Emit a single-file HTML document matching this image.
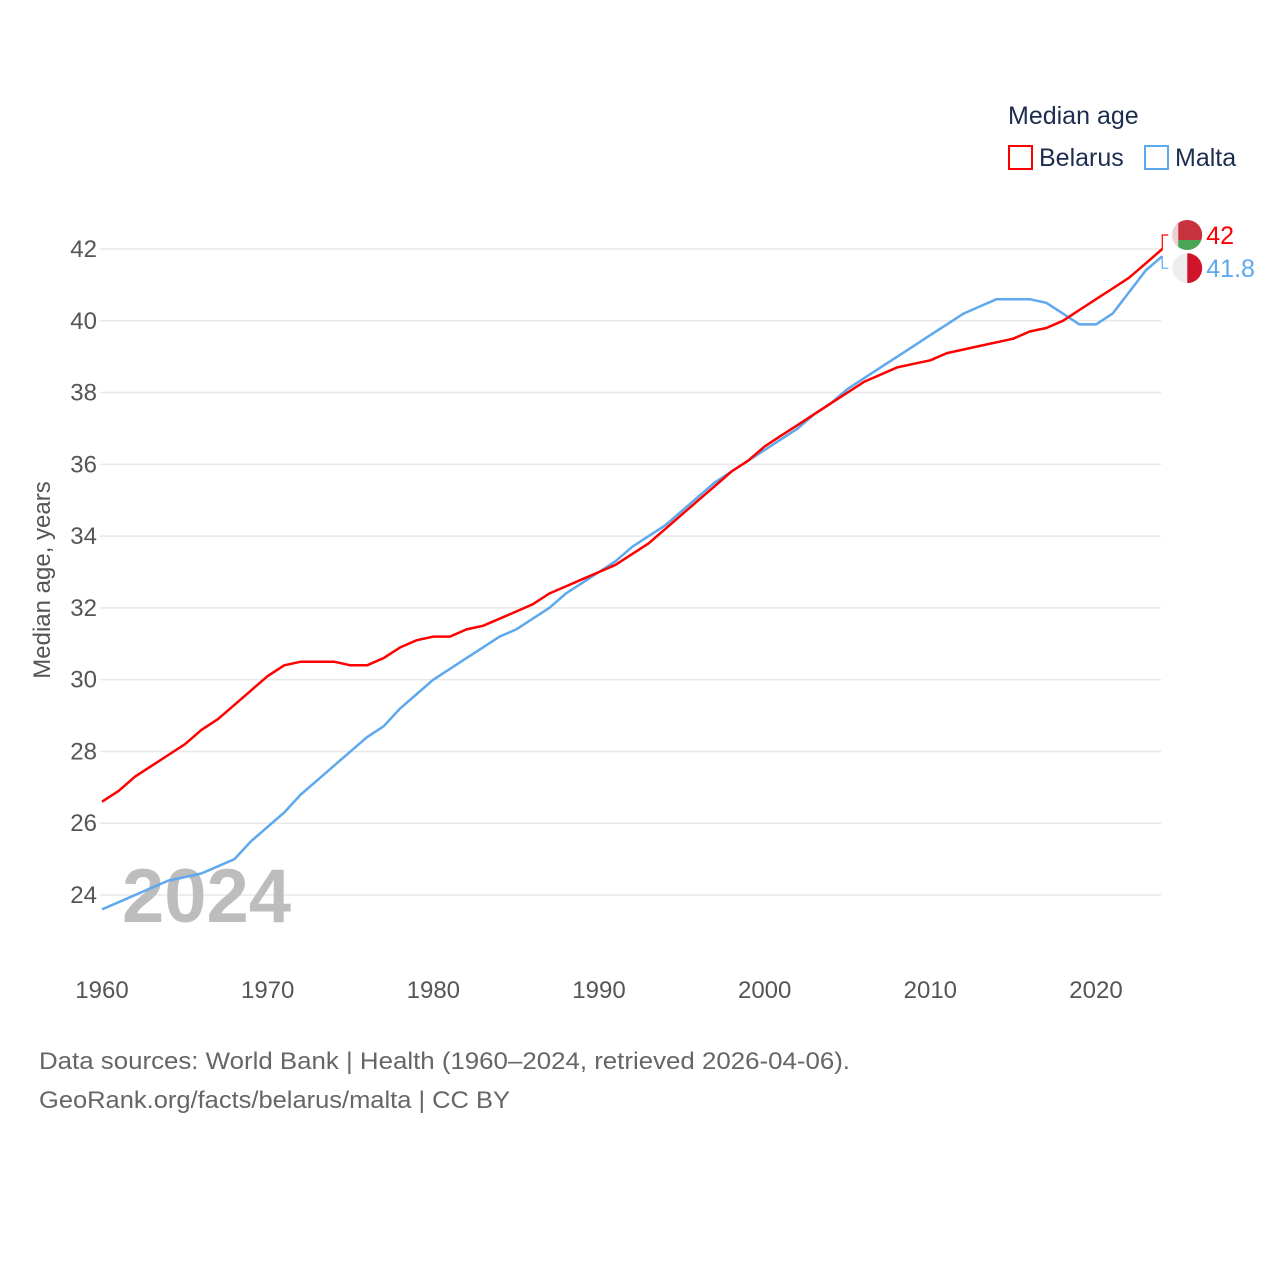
<!DOCTYPE html>
<html><head><meta charset="utf-8"><style>
body{margin:0;background:#fff;font-family:"Liberation Sans",sans-serif}
svg text{font-family:"Liberation Sans",sans-serif}
</style></head><body>
<svg id="chart" width="1280" height="1280" viewBox="0 0 1280 1280">
<g id="grid"></g>
<g id="yaxis"></g>
<g id="xaxis"></g>
<text x="122" y="922" font-size="76" font-weight="bold" fill="#bdbdbd">2024</text>
<g id="lines"></g>
<text transform="translate(50,580) rotate(-90)" text-anchor="middle" font-size="24" fill="#555">Median age, years</text>
<g>
<text x="1008" y="124" font-size="25" fill="#1d2d50">Median age</text>
<rect x="1009" y="146" width="23" height="23" fill="none" stroke="#ff0000" stroke-width="2"/>
<text x="1039" y="166" font-size="25" fill="#1d2d50">Belarus</text>
<rect x="1145" y="146" width="23" height="23" fill="none" stroke="#5ea8ee" stroke-width="2"/>
<text x="1175" y="166" font-size="25" fill="#1d2d50">Malta</text>
</g>
<g id="ends"></g>
<text x="39" y="1069" font-size="24" fill="#666" textLength="811" lengthAdjust="spacingAndGlyphs">Data sources: World Bank | Health (1960–2024, retrieved 2026-04-06).</text>
<text x="39" y="1108" font-size="24" fill="#666" textLength="471" lengthAdjust="spacingAndGlyphs">GeoRank.org/facts/belarus/malta | CC BY</text>
</svg>
<script>
const years=[];for(let y=1960;y<=2024;y++)years.push(y);
const belarus=[26.6,26.9,27.3,27.6,27.9,28.2,28.6,28.9,29.3,29.7,30.1,30.4,30.5,30.5,30.5,30.4,30.4,30.6,30.9,31.1,31.2,31.2,31.4,31.5,31.7,31.9,32.1,32.4,32.6,32.8,33.0,33.2,33.5,33.8,34.2,34.6,35.0,35.4,35.8,36.1,36.5,36.8,37.1,37.4,37.7,38.0,38.3,38.5,38.7,38.8,38.9,39.1,39.2,39.3,39.4,39.5,39.7,39.8,40.0,40.3,40.6,40.9,41.2,41.6,42.0];
const malta=[23.6,23.8,24.0,24.2,24.4,24.5,24.6,24.8,25.0,25.5,25.9,26.3,26.8,27.2,27.6,28.0,28.4,28.7,29.2,29.6,30.0,30.3,30.6,30.9,31.2,31.4,31.7,32.0,32.4,32.7,33.0,33.3,33.7,34.0,34.3,34.7,35.1,35.5,35.8,36.1,36.4,36.7,37.0,37.4,37.7,38.1,38.4,38.7,39.0,39.3,39.6,39.9,40.2,40.4,40.6,40.6,40.6,40.5,40.2,39.9,39.9,40.2,40.8,41.4,41.8];
const yTicks=[24,26,28,30,32,34,36,38,40,42];
const xTicks=[1960,1970,1980,1990,2000,2010,2020];
const NS='http://www.w3.org/2000/svg';
const X=y=>102+(y-1960)*(1096-102)/60;
const Y=v=>249+(42-v)*(895-249)/18;
function mk(t,a,p){const e=document.createElementNS(NS,t);for(const k in a)e.setAttribute(k,a[k]);p.appendChild(e);return e;}
const grid=document.getElementById('grid'),ya=document.getElementById('yaxis'),xa=document.getElementById('xaxis'),ln=document.getElementById('lines'),ends=document.getElementById('ends');
yTicks.forEach(t=>{
const l=mk('line',{x1:100,x2:1161,y1:Y(t),y2:Y(t),stroke:'#e8e8e8','stroke-width':1.5},grid);


const tx=mk('text',{x:97,y:Y(t)+8,'text-anchor':'end','font-size':24,fill:'#555'},ya);


tx.textContent=t;});
xTicks.forEach(t=>{
const tx=mk('text',{x:X(t),y:998,'text-anchor':'middle','font-size':24,fill:'#555'},xa);


tx.textContent=t;});
function line(vals,color,name){
const p=mk('path',{d:vals.map((v,i)=>(i?'L':'M')+X(years[i]).toFixed(1)+','+Y(v).toFixed(1)).join(''),fill:'none',stroke:color,'stroke-width':2.5,'stroke-linejoin':'round'},ln);

}
line(malta,'#5ea8ee','line-malta');
line(belarus,'#ff0000','line-belarus');
const lb=belarus[belarus.length-1],lm=malta[malta.length-1],ex=X(2024);
const yb=Y(lb)-14,ym=Y(lm)+12;
const c1=mk('path',{d:`M${ex},${Y(lb)}V${yb}H${ex+6}`,fill:'none',stroke:'#ff0000','stroke-width':1.2},ends);


const c2=mk('path',{d:`M${ex},${Y(lm)}V${ym}H${ex+6}`,fill:'none',stroke:'#5ea8ee','stroke-width':1.2},ends);


const fb=mk('g',{},ends);
const cpb=mk('clipPath',{id:'cb'},fb);mk('circle',{cx:ex+25,cy:yb,r:15},cpb);
mk('rect',{x:ex+10,y:yb-15,width:30,height:20,fill:'#c8313e','clip-path':'url(#cb)'},fb);
mk('rect',{x:ex+10,y:yb+5,width:30,height:10,fill:'#4aa657','clip-path':'url(#cb)'},fb);
mk('rect',{x:ex+10,y:yb-15,width:6,height:30,fill:'#f0d0d0','clip-path':'url(#cb)'},fb);
const fm=mk('g',{},ends);
const cpm=mk('clipPath',{id:'cm'},fm);mk('circle',{cx:ex+25,cy:ym,r:15},cpm);
mk('rect',{x:ex+10,y:ym-15,width:15,height:30,fill:'#eeeeee','clip-path':'url(#cm)'},fm);
mk('rect',{x:ex+25,y:ym-15,width:15,height:30,fill:'#cf142b','clip-path':'url(#cm)'},fm);
const t1=mk('text',{x:ex+44,y:yb+9,'font-size':25,fill:'#ff0000'},ends);


t1.textContent=lb;
const t2=mk('text',{x:ex+44,y:ym+9,'font-size':25,fill:'#5ea8ee'},ends);


t2.textContent=lm;
</script>
</body></html>
